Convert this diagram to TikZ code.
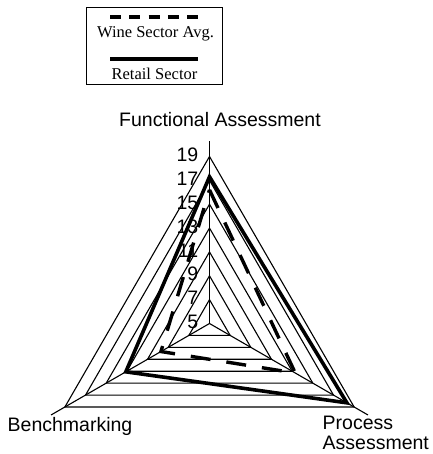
\documentclass[tikz,border=0pt]{standalone}
\usepackage{fontspec}
\setmainfont{Liberation Serif}
\newfontfamily\arialfont{Liberation Sans}
\begin{document}
\begin{tikzpicture}[x=1pt,y=-1pt,
  grid/.style={draw=black,line width=1.1pt},
  retail/.style={draw=black,line width=3.6pt,line join=miter},
  wine/.style={draw=black,line width=3.4pt,dash pattern=on 20pt off 16pt,line join=miter},
  legwine/.style={draw=black,line width=3.8pt,dash pattern=on 11pt off 8.25pt},
  legretail/.style={draw=black,line width=3.8pt},
  axlabel/.style={font=\arialfont\fontsize{19.5}{22}\selectfont,inner sep=0pt},
  num/.style={font=\arialfont\fontsize{19.5}{21}\selectfont,inner sep=0pt,anchor=east},
  legtext/.style={font=\fontsize{16.5}{19}\selectfont,inner sep=0pt,anchor=base}]
\useasboundingbox (0,0) rectangle (432,454);
% legend
\node[draw=black,line width=0.9pt,minimum width=136pt,minimum height=77pt,inner sep=0pt] (leg) at (154,45.5) {};
\coordinate (lw1) at (110,16.7);
\coordinate (lw2) at (198,16.7);
\draw[legwine] (lw1) -- (lw2);
\node[legtext] (lwt) at (155.5,38) {Wine Sector Avg.};
\coordinate (lr1) at (110,59);
\coordinate (lr2) at (198,59);
\draw[legretail] (lr1) -- (lr2);
\node[legtext] (lrt) at (154.5,80) {Retail Sector};
% radar
\def\U{11.93}
\begin{scope}[shift={(209.5,323.5)}]
  \coordinate (C) at (0,0);
  \foreach \k in {1,...,7}{
    \pgfmathsetmacro\r{\k*2*\U}
    \draw[grid] (90:\r pt) -- (210:\r pt) -- (330:\r pt) -- cycle;
  }
  \coordinate (AF) at (90:182pt);
  \coordinate (AB) at (210:183pt);
  \coordinate (AP) at (330:183pt);
  \draw[grid] (C) -- (AF);
  \draw[grid] (C) -- (AB);
  \draw[grid] (C) -- (AP);
  % series
  \pgfmathsetmacro\rf{(17.3-5)*\U}
  \pgfmathsetmacro\rp{(18.3-5)*\U}
  \pgfmathsetmacro\rb{(13.1-5)*\U}
  \coordinate (RF) at (90:\rf pt);
  \coordinate (RP) at (330:\rp pt);
  \coordinate (RB) at (210:\rb pt);
  \pgfmathsetmacro\wf{(16.2-5)*\U}
  \pgfmathsetmacro\wp{(13.3-5)*\U}
  \pgfmathsetmacro\wb{(9.7-5)*\U}
  \coordinate (WF) at (90:\wf pt);
  \coordinate (WP) at (330:\wp pt);
  \coordinate (WB) at (210:\wb pt);
  \draw[wine] (WF) -- (WP) -- (WB) -- cycle;
  \draw[retail] (RF) -- (RP) -- (RB) -- cycle;
\end{scope}
% scale labels
\foreach \v in {5,7,...,19}{
  \node[num] (n\v) at (198.5,{322-(\v-5)*\U}) {\v};
}
% axis labels
\node[axlabel,anchor=base] (lf) at (220,126.7) {Functional Assessment};
\node[axlabel,anchor=base west] (lb) at (7.5,431.7) {Benchmarking};
\node[axlabel,anchor=base west] (lp1) at (322.5,429) {Process};
\node[axlabel,anchor=base west] (lp2) at (322.5,449) {Assessment};
\end{tikzpicture}
\end{document}
